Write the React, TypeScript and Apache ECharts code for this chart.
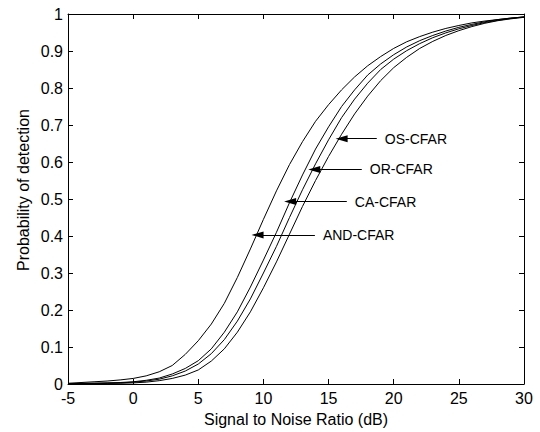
import React, { useEffect, useRef } from "react";
import * as echarts from "echarts";

const snr = [-5, -4, -3, -2, -1, 0, 1, 2, 3, 4, 5, 6, 7, 8, 9, 10, 11, 12, 13, 14, 15, 16, 17, 18, 19, 20, 21, 22, 23, 24, 25, 26, 27, 28, 29, 30];

const andCfar = [0.002, 0.004, 0.006, 0.008, 0.011, 0.015, 0.022, 0.033, 0.05, 0.08, 0.117, 0.162, 0.218, 0.288, 0.365, 0.445, 0.522, 0.593, 0.655, 0.71, 0.755, 0.795, 0.83, 0.86, 0.885, 0.907, 0.925, 0.939, 0.951, 0.961, 0.969, 0.976, 0.981, 0.985, 0.989, 0.992];
const caCfar = [0.001, 0.0015, 0.002, 0.003, 0.004, 0.006, 0.01, 0.016, 0.027, 0.042, 0.063, 0.095, 0.14, 0.195, 0.262, 0.335, 0.41, 0.49, 0.565, 0.635, 0.695, 0.75, 0.795, 0.835, 0.865, 0.89, 0.911, 0.928, 0.942, 0.954, 0.964, 0.972, 0.979, 0.985, 0.989, 0.992];
const orCfar = [0.001, 0.0015, 0.002, 0.0025, 0.003, 0.005, 0.008, 0.013, 0.022, 0.035, 0.054, 0.082, 0.12, 0.17, 0.23, 0.3, 0.372, 0.45, 0.525, 0.595, 0.66, 0.72, 0.77, 0.813, 0.85, 0.878, 0.901, 0.92, 0.936, 0.949, 0.96, 0.969, 0.977, 0.983, 0.988, 0.992];
const osCfar = [0.0005, 0.0008, 0.001, 0.0015, 0.002, 0.003, 0.005, 0.009, 0.015, 0.024, 0.038, 0.062, 0.095, 0.14, 0.195, 0.26, 0.33, 0.405, 0.48, 0.55, 0.615, 0.675, 0.73, 0.778, 0.82, 0.855, 0.883, 0.907, 0.926, 0.942, 0.955, 0.966, 0.975, 0.982, 0.987, 0.991];

const seriesNames = ["AND-CFAR", "CA-CFAR", "OR-CFAR", "OS-CFAR"];
const seriesData = [andCfar, caCfar, orCfar, osCfar];

// annotation arrows: tip (x, y) on curve, tail x at same y
const arrowTipX = [9.55, 12.05, 13.9, 16.0];
const arrowTipY = [0.403, 0.493, 0.58, 0.663];
const arrowTailX = [13.95, 16.4, 17.55, 18.7];

const xTicks = { min: -5, max: 30, interval: 5 };
const yTicks = { min: 0, max: 1, interval: 0.1 };

const FONT = "Liberation Sans, Arial, Helvetica, sans-serif";

export default function App() {
  const ref = useRef<HTMLDivElement>(null);
  useEffect(() => {
    if (!ref.current) return;
    const chart = echarts.init(ref.current, undefined, { renderer: "svg" });
    const series = seriesData.map((d, i) => ({
      name: seriesNames[i],
      type: "line",
      data: snr.map((x, j) => [x, d[j]]),
      showSymbol: false,
      symbol: "none",
      silent: true,
      lineStyle: { color: "#000", width: 1 },
      markLine: {
        silent: true,
        symbol: ["none", "triangle"],
        symbolSize: [7, 12],
        lineStyle: { color: "#000", width: 1, type: "solid" },
        itemStyle: { color: "#000" },
        label: {
          show: true,
          position: "start",
          distance: 8,
          formatter: seriesNames[i],
          color: "#000",
          fontSize: 14,
          fontFamily: FONT,
        },
        emphasis: { disabled: true },
        data: [
          [
            { coord: [arrowTailX[i], arrowTipY[i]] },
            { coord: [arrowTipX[i], arrowTipY[i]] },
          ],
        ],
      },
    }));
    const axisCommon = {
      type: "value",
      axisLine: { show: true, onZero: false, lineStyle: { color: "#000", width: 1 } },
      axisTick: { show: true, inside: true, length: 5, lineStyle: { color: "#000" } },
      splitLine: { show: false },
    };
    chart.setOption({
      animation: false,
      grid: { left: 68, right: 16, top: 14, bottom: 47 },
      xAxis: [
        {
          ...axisCommon,
          ...xTicks,
          position: "bottom",
          name: "Signal to Noise Ratio (dB)",
          nameLocation: "middle",
          nameGap: 27,
          nameTextStyle: { color: "#000", fontSize: 16, fontFamily: FONT },
          axisLabel: { color: "#000", fontSize: 16, fontFamily: FONT, margin: 6 },
        },
        {
          ...axisCommon,
          ...xTicks,
          position: "top",
          axisLabel: { show: false },
        },
      ],
      yAxis: [
        {
          ...axisCommon,
          ...yTicks,
          position: "left",
          axisLabel: { color: "#000", fontSize: 16, fontFamily: FONT, margin: 5 },
        },
        {
          ...axisCommon,
          ...yTicks,
          position: "right",
          axisLabel: { show: false },
        },
      ],
      graphic: [
        {
          type: "text",
          x: 23,
          y: 190,
          rotation: Math.PI / 2,
          style: {
            text: "Probability of detection",
            fontSize: 16,
            fontFamily: FONT,
            fill: "#000",
            align: "center",
            verticalAlign: "middle",
          },
        },
      ],
      series,
    });
    return () => chart.dispose();
  }, []);
  return <div ref={ref} style={{ width: 540, height: 432, position: "absolute", left: 0, top: 0, background: "#fff" }} />;
}
